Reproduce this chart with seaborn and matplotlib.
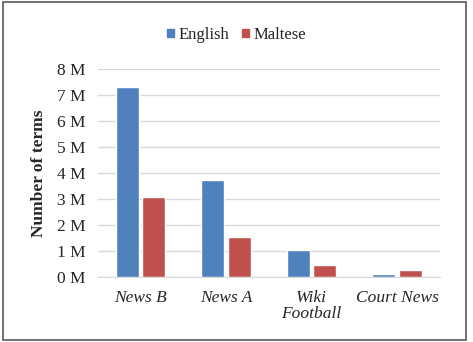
import pandas as pd
import matplotlib.pyplot as plt
import seaborn as sns
from matplotlib.patches import Rectangle
from matplotlib.ticker import FuncFormatter

# data
categories = ["News B", "News A", "Wiki\nFootball", "Court News"]
english = [7.32, 3.74, 1.06, 0.14]
maltese = [3.07, 1.55, 0.47, 0.29]

df = pd.DataFrame({
    "Corpus": categories * 2,
    "Terms": english + maltese,
    "Language": ["English"] * 4 + ["Maltese"] * 4,
})

sns.set_style("white")
plt.rcParams["font.family"] = ["Liberation Serif", "DejaVu Serif"]

fig = plt.figure(figsize=(4.73, 3.42), dpi=100)
ax = fig.add_axes([0.207, 0.189, 0.723, 0.609])

sns.barplot(
    data=df, x="Corpus", y="Terms", hue="Language",
    palette={"English": "#4F81BD", "Maltese": "#C0504D"}, saturation=1,
    width=0.62, gap=0.13, ax=ax, legend=False,
)

ax.set_ylim(0, 8)
ax.set_yticks(range(0, 9))
ax.yaxis.set_major_formatter(FuncFormatter(lambda v, p: f"{int(v)} M"))
ax.grid(axis="y", color="#D9D9D9", linewidth=1)
ax.set_axisbelow(True)
for s in ["top", "right", "left"]:
    ax.spines[s].set_visible(False)
ax.spines["bottom"].set_color("#D9D9D9")
ax.tick_params(axis="y", length=0, labelsize=12.5, pad=9)
ax.tick_params(axis="x", length=0, labelsize=12.5, pad=9)
for lbl in ax.get_xticklabels():
    lbl.set_fontstyle("italic")
    lbl.set_linespacing(1.0)
ax.set_xlabel("")
ax.set_ylabel("Number of terms", fontsize=12.5, fontweight="bold", labelpad=7)

# legend
handles = [Rectangle((0, 0), 1, 1, color="#4F81BD"),
           Rectangle((0, 0), 1, 1, color="#C0504D")]
fig.legend(handles, ["English", "Maltese"], loc="center", bbox_to_anchor=(0.5, 0.898),
           ncol=2, frameon=False, fontsize=12, handlelength=0.4, handleheight=0.4,
           handletextpad=0.25, columnspacing=0.8)

# frame around the figure
fig.patches.append(Rectangle((3 / 473, 2 / 342), 463 / 473, 338 / 342,
                             transform=fig.transFigure, fill=False,
                             edgecolor="#595959", linewidth=1.2))

plt.savefig("out.png", dpi=100)
